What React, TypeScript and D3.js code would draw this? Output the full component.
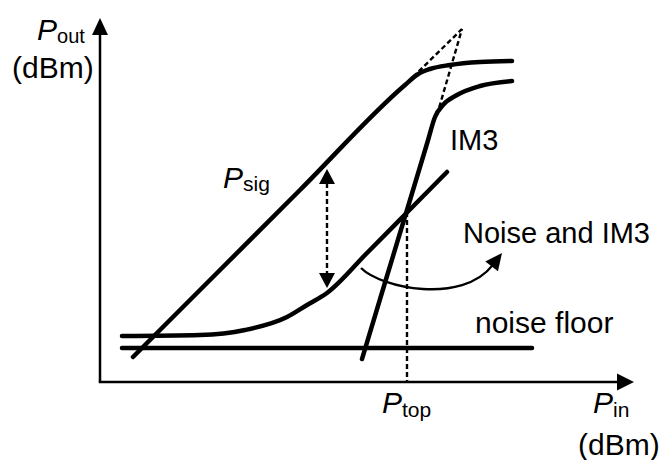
import React from "react";
import * as d3 from "d3";

type Pt = [number, number];

// Input / output power curves, [Pin dBm, Pout dBm]
const signalCurve: Pt[] = [[-63.4, -55], [-30, -21.6], [-9, -0.6], [-6.5, 1.5], [-4, 2.6], [0, 3.4], [6, 4.0], [12.4, 4.2]];
const im3Curve: Pt[] = [[-17.6, -55.4], [-12.6, -38.8], [-8.6, -25.6], [-4.5, -12.0], [-3, -7], [-1.4, -4.6], [1.4, -2.6], [6, -0.8], [12.4, 0.2]];
const noiseIm3Curve: Pt[] = [[-65.6, -50.8], [-50, -50.6], [-41, -49.6], [-32.6, -47], [-28.6, -44.6], [-24.6, -42.2], [-16.6, -34.2], [-8.6, -26.1], [-0.6, -18]];
const noiseFloor: Pt[] = [[-65.6, -53.2], [16.4, -53.2]];
// Linear extrapolations meeting at the intercept point
const signalExtrap: Pt[] = [[-7.4, 1.0], [2.4, 10.6]];
const im3Extrap: Pt[] = [[-2.6, -6.6], [2.4, 10.6]];
// Optimum input power and the signal / noise gap marker
const pTop: Pt[] = [[-8.6, -26], [-8.6, -60]];
const pSig: Pt[] = [[-24.6, -16.2], [-24.6, -42.2]];
// Sweep arrow: start, two control points, tip
const sweepArrow: Pt[] = [[-17.8, -37.2], [-13.8, -41.2], [2.4, -44.6], [10.4, -34.2]];

const W = 668;
const H = 460;
const x = d3.scaleLinear().domain([-70, 36.8]).range([100, 634]);
const y = d3.scaleLinear().domain([-60, 12.8]).range([382, 18]);

const FONT = "Arial, 'Liberation Sans', Helvetica, sans-serif";

function tri(tipX: number, tipY: number, dx: number, dy: number, len: number, half: number) {
  const n = Math.hypot(dx, dy);
  const ux = dx / n, uy = dy / n;
  const bx = tipX - ux * len, by = tipY - uy * len;
  const px = -uy * half, py = ux * half;
  return `M${tipX},${tipY}L${bx + px},${by + py}L${bx - px},${by - py}Z`;
}

export default function App() {
  const curve = d3.line<Pt>().x(d => x(d[0])).y(d => y(d[1])).curve(d3.curveMonotoneX);
  const straight = d3.line<Pt>().x(d => x(d[0])).y(d => y(d[1]));

  const x0 = x(-70), y0 = y(-60);
  const yTop = 18, xEnd = 634;

  // Signal/noise gap marker
  const sx = x(pSig[0][0]);
  const sTop = y(pSig[0][1]) + 6;
  const sBot = y(pSig[1][1]) - 5;
  const headL = 15, headW = 8;

  // Sweep arrow
  const [a0, a1, a2, a3] = sweepArrow.map(p => [x(p[0]), y(p[1])]);
  const sweep = d3.path();
  sweep.moveTo(a0[0], a0[1]);
  const tipLen = 17;
  const ddx = a3[0] - a2[0], ddy = a3[1] - a2[1];
  const dn = Math.hypot(ddx, ddy);
  const endX = a3[0] - (ddx / dn) * (tipLen - 2);
  const endY = a3[1] - (ddy / dn) * (tipLen - 2);
  sweep.bezierCurveTo(a1[0], a1[1], a2[0], a2[1], endX, endY);

  return (
    <svg width={W} height={H} style={{ position: "absolute", left: 0, top: 0, background: "#fff" }} fontFamily={FONT}>
      <rect width={W} height={H} fill="#fff" />
      {/* axes */}
      <g stroke="#000" strokeWidth={2.5} fill="none">
        <line x1={x0} y1={y0} x2={x0} y2={yTop + 15} />
        <line x1={x0 - 1.25} y1={y0} x2={xEnd - 15} y2={y0} />
      </g>
      <path d={tri(x0, yTop, 0, -1, 17, 8)} fill="#000" />
      <path d={tri(xEnd, y0, 1, 0, 17, 8.5)} fill="#000" />

      {/* extrapolation and marker dashes */}
      <g stroke="#000" strokeWidth={2.4} fill="none" strokeDasharray="5,3">
        <path d={straight(signalExtrap) || ""} />
        <path d={straight(im3Extrap) || ""} />
        <path d={straight(pTop) || ""} />
        <line x1={sx} y1={sTop + headL - 1} x2={sx} y2={sBot - headL + 1} />
      </g>
      <path d={tri(sx, sTop, 0, -1, headL, headW)} fill="#000" />
      <path d={tri(sx, sBot, 0, 1, headL, headW)} fill="#000" />

      {/* power curves */}
      <g stroke="#000" strokeWidth={4.5} fill="none" strokeLinecap="round" strokeLinejoin="round">
        <path d={straight(noiseFloor) || ""} />
        <path d={curve(noiseIm3Curve) || ""} />
        <path d={curve(signalCurve) || ""} />
        <path d={curve(im3Curve) || ""} />
      </g>

      {/* sweep arrow */}
      <path d={sweep.toString()} stroke="#000" strokeWidth={2.4} fill="none" />
      <path d={tri(a3[0], a3[1], ddx, ddy, tipLen, 8)} fill="#000" />

      {/* labels */}
      <g fill="#000">
        <text x={37} y={40} fontSize={30}>
          <tspan fontStyle="italic">P</tspan>
          <tspan fontSize={20} dy={3}>out</tspan>
        </text>
        <text x={12} y={78} fontSize={30}>(dBm)</text>
        <text x={223} y={188} fontSize={30}>
          <tspan fontStyle="italic">P</tspan>
          <tspan fontSize={21} dy={3}>sig</tspan>
        </text>
        <text x={450} y={150} fontSize={29}>IM3</text>
        <text x={463} y={243} fontSize={29}>Noise and IM3</text>
        <text x={475} y={333} fontSize={30}>noise floor</text>
        <text x={382} y={413} fontSize={30}>
          <tspan fontStyle="italic">P</tspan>
          <tspan fontSize={21} dy={4}>top</tspan>
        </text>
        <text x={593} y={413} fontSize={30}>
          <tspan fontStyle="italic">P</tspan>
          <tspan fontSize={21} dy={4}>in</tspan>
        </text>
        <text x={578} y={455} fontSize={30}>(dBm)</text>
      </g>
    </svg>
  );
}
